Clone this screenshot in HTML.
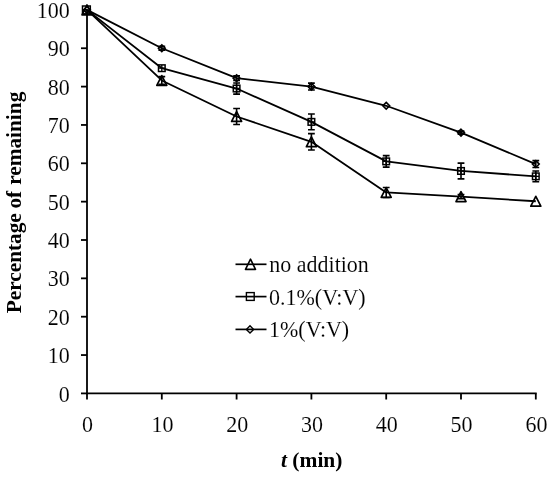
<!DOCTYPE html><html><head><meta charset="utf-8"><style>html,body{margin:0;padding:0;background:#fff;width:550px;height:477px;overflow:hidden}svg{display:block;filter:grayscale(1)}text{font-family:"Liberation Serif",serif;fill:#000}.thin text{stroke:#fff;stroke-width:0.1px}</style></head><body>
<svg width="550" height="477" viewBox="0 0 550 477">
<rect width="550" height="477" fill="#fff"/>
<g stroke="#000" stroke-width="1.8" fill="none">
<line x1="87.0" y1="9.899999999999977" x2="87.0" y2="394.29999999999995"/>
<line x1="86.1" y1="393.4" x2="536.6999999999999" y2="393.4"/>
<line x1="81" y1="393.40" x2="87.0" y2="393.40"/>
<line x1="81" y1="355.05" x2="87.0" y2="355.05"/>
<line x1="81" y1="316.70" x2="87.0" y2="316.70"/>
<line x1="81" y1="278.35" x2="87.0" y2="278.35"/>
<line x1="81" y1="240.00" x2="87.0" y2="240.00"/>
<line x1="81" y1="201.65" x2="87.0" y2="201.65"/>
<line x1="81" y1="163.30" x2="87.0" y2="163.30"/>
<line x1="81" y1="124.95" x2="87.0" y2="124.95"/>
<line x1="81" y1="86.60" x2="87.0" y2="86.60"/>
<line x1="81" y1="48.25" x2="87.0" y2="48.25"/>
<line x1="83" y1="9.90" x2="87.0" y2="9.90"/>
<line x1="87.00" y1="393.4" x2="87.00" y2="399.5"/>
<line x1="161.80" y1="393.4" x2="161.80" y2="399.5"/>
<line x1="236.60" y1="393.4" x2="236.60" y2="399.5"/>
<line x1="311.40" y1="393.4" x2="311.40" y2="399.5"/>
<line x1="386.20" y1="393.4" x2="386.20" y2="399.5"/>
<line x1="461.00" y1="393.4" x2="461.00" y2="399.5"/>
<line x1="535.80" y1="393.4" x2="535.80" y2="399.5"/>
</g>
<g class="thin" font-size="22" text-anchor="end">
<text transform="translate(69.8,401.50) scale(1,1.09)">0</text>
<text transform="translate(69.8,363.15) scale(1,1.09)">10</text>
<text transform="translate(69.8,324.80) scale(1,1.09)">20</text>
<text transform="translate(69.8,286.45) scale(1,1.09)">30</text>
<text transform="translate(69.8,248.10) scale(1,1.09)">40</text>
<text transform="translate(69.8,209.75) scale(1,1.09)">50</text>
<text transform="translate(69.8,171.40) scale(1,1.09)">60</text>
<text transform="translate(69.8,133.05) scale(1,1.09)">70</text>
<text transform="translate(69.8,94.70) scale(1,1.09)">80</text>
<text transform="translate(69.8,56.35) scale(1,1.09)">90</text>
<text transform="translate(69.8,18.00) scale(1,1.09)">100</text>
</g>
<g class="thin" font-size="22" text-anchor="middle">
<text transform="translate(87.60,431.8) scale(1,1.09)">0</text>
<text transform="translate(162.40,431.8) scale(1,1.09)">10</text>
<text transform="translate(237.20,431.8) scale(1,1.09)">20</text>
<text transform="translate(312.00,431.8) scale(1,1.09)">30</text>
<text transform="translate(386.80,431.8) scale(1,1.09)">40</text>
<text transform="translate(461.60,431.8) scale(1,1.09)">50</text>
<text transform="translate(536.40,431.8) scale(1,1.09)">60</text>
</g>
<text transform="translate(281,467) scale(1.075,1)" font-size="20" font-weight="bold"><tspan font-style="italic">t</tspan> (min)</text>
<g font-size="21.3" font-weight="bold">
<text transform="translate(21.3,313.3) rotate(-90)">Percentage</text>
<text transform="translate(21.3,208.6) rotate(-90)">of</text>
<text transform="translate(21.3,184.8) rotate(-90)">remaining</text>
</g>
<polyline points="87.00,9.90 161.80,80.46 236.60,116.51 311.40,141.82 386.20,192.45 461.00,196.66 535.80,201.27" fill="none" stroke="#000" stroke-width="1.8" stroke-linejoin="round"/>
<polyline points="87.00,9.90 161.80,68.19 236.60,88.52 311.40,121.88 386.20,161.38 461.00,170.97 535.80,176.34" fill="none" stroke="#000" stroke-width="1.8" stroke-linejoin="round"/>
<polyline points="87.00,9.90 161.80,48.25 236.60,78.16 311.40,86.60 386.20,105.77 461.00,132.62 535.80,164.07" fill="none" stroke="#000" stroke-width="1.8" stroke-linejoin="round"/>
<path d="M87.00,5.00 L92.00,14.80 L82.00,14.80 Z" fill="none" stroke="#000" stroke-width="1.7" stroke-linejoin="round"/>

<path d="M161.80,75.56 L166.80,85.36 L156.80,85.36 Z" fill="none" stroke="#000" stroke-width="1.7" stroke-linejoin="round"/>
<path d="M161.80,76.63 V84.30 M158.40,76.63 H165.20 M158.40,84.30 H165.20" stroke="#000" stroke-width="1.6" fill="none"/>
<path d="M236.60,111.61 L241.60,121.41 L231.60,121.41 Z" fill="none" stroke="#000" stroke-width="1.7" stroke-linejoin="round"/>
<path d="M236.60,108.46 V124.57 M233.20,108.46 H240.00 M233.20,124.57 H240.00" stroke="#000" stroke-width="1.6" fill="none"/>
<path d="M311.40,136.92 L316.40,146.72 L306.40,146.72 Z" fill="none" stroke="#000" stroke-width="1.7" stroke-linejoin="round"/>
<path d="M311.40,133.58 V150.07 M308.00,133.58 H314.80 M308.00,150.07 H314.80" stroke="#000" stroke-width="1.6" fill="none"/>
<path d="M386.20,187.55 L391.20,197.35 L381.20,197.35 Z" fill="none" stroke="#000" stroke-width="1.7" stroke-linejoin="round"/>
<path d="M386.20,187.46 V197.43 M382.80,187.46 H389.60 M382.80,197.43 H389.60" stroke="#000" stroke-width="1.6" fill="none"/>
<path d="M461.00,191.76 L466.00,201.56 L456.00,201.56 Z" fill="none" stroke="#000" stroke-width="1.7" stroke-linejoin="round"/>
<path d="M461.00,194.56 V198.77 M457.60,194.56 H464.40 M457.60,198.77 H464.40" stroke="#000" stroke-width="1.6" fill="none"/>
<path d="M535.80,196.37 L540.80,206.17 L530.80,206.17 Z" fill="none" stroke="#000" stroke-width="1.7" stroke-linejoin="round"/>

<rect x="82.50" y="6.00" width="7.8" height="7.8" fill="none" stroke="#000" stroke-width="1.5"/>
<rect x="158.50" y="64.89" width="6.6" height="6.6" fill="none" stroke="#000" stroke-width="1.5"/><path d="M161.80,64.89V71.49M158.50,68.19H165.10" stroke="#000" stroke-width="1.3"/>

<rect x="233.30" y="85.22" width="6.6" height="6.6" fill="none" stroke="#000" stroke-width="1.5"/><path d="M236.60,85.22V91.82M233.30,88.52H239.90" stroke="#000" stroke-width="1.3"/>
<path d="M236.60,82.96 V94.08 M233.20,82.96 H240.00 M233.20,94.08 H240.00" stroke="#000" stroke-width="1.6" fill="none"/>
<rect x="308.10" y="118.58" width="6.6" height="6.6" fill="none" stroke="#000" stroke-width="1.5"/><path d="M311.40,118.58V125.18M308.10,121.88H314.70" stroke="#000" stroke-width="1.3"/>
<path d="M311.40,114.02 V129.74 M308.00,114.02 H314.80 M308.00,129.74 H314.80" stroke="#000" stroke-width="1.6" fill="none"/>
<rect x="382.90" y="158.08" width="6.6" height="6.6" fill="none" stroke="#000" stroke-width="1.5"/><path d="M386.20,158.08V164.68M382.90,161.38H389.50" stroke="#000" stroke-width="1.3"/>
<path d="M386.20,155.63 V167.13 M382.80,155.63 H389.60 M382.80,167.13 H389.60" stroke="#000" stroke-width="1.6" fill="none"/>
<rect x="457.70" y="167.67" width="6.6" height="6.6" fill="none" stroke="#000" stroke-width="1.5"/><path d="M461.00,167.67V174.27M457.70,170.97H464.30" stroke="#000" stroke-width="1.3"/>
<path d="M461.00,163.11 V178.83 M457.60,163.11 H464.40 M457.60,178.83 H464.40" stroke="#000" stroke-width="1.6" fill="none"/>
<rect x="532.50" y="173.04" width="6.6" height="6.6" fill="none" stroke="#000" stroke-width="1.5"/><path d="M535.80,173.04V179.64M532.50,176.34H539.10" stroke="#000" stroke-width="1.3"/>
<path d="M535.80,170.97 V181.71 M532.40,170.97 H539.20 M532.40,181.71 H539.20" stroke="#000" stroke-width="1.6" fill="none"/>
<path d="M87.00,6.50 L90.40,9.90 L87.00,13.30 L83.60,9.90 Z" fill="none" stroke="#000" stroke-width="1.6"/>

<path d="M161.80,44.85 L165.20,48.25 L161.80,51.65 L158.40,48.25 Z" fill="none" stroke="#000" stroke-width="1.6"/>
<path d="M161.80,46.33 V50.17 M158.40,46.33 H165.20 M158.40,50.17 H165.20" stroke="#000" stroke-width="1.6" fill="none"/>
<path d="M236.60,74.76 L240.00,78.16 L236.60,81.56 L233.20,78.16 Z" fill="none" stroke="#000" stroke-width="1.6"/>
<path d="M236.60,75.86 V80.46 M233.20,75.86 H240.00 M233.20,80.46 H240.00" stroke="#000" stroke-width="1.6" fill="none"/>
<path d="M311.40,83.20 L314.80,86.60 L311.40,90.00 L308.00,86.60 Z" fill="none" stroke="#000" stroke-width="1.6"/>
<path d="M311.40,83.15 V90.05 M308.00,83.15 H314.80 M308.00,90.05 H314.80" stroke="#000" stroke-width="1.6" fill="none"/>
<path d="M386.20,102.37 L389.60,105.77 L386.20,109.17 L382.80,105.77 Z" fill="none" stroke="#000" stroke-width="1.6"/>

<path d="M461.00,129.22 L464.40,132.62 L461.00,136.02 L457.60,132.62 Z" fill="none" stroke="#000" stroke-width="1.6"/>
<path d="M461.00,131.09 V134.15 M457.60,131.09 H464.40 M457.60,134.15 H464.40" stroke="#000" stroke-width="1.6" fill="none"/>
<path d="M535.80,160.67 L539.20,164.07 L535.80,167.47 L532.40,164.07 Z" fill="none" stroke="#000" stroke-width="1.6"/>
<path d="M535.80,160.62 V167.52 M532.40,160.62 H539.20 M532.40,167.52 H539.20" stroke="#000" stroke-width="1.6" fill="none"/>
<g class="thin" font-size="22">
<line x1="235.5" y1="264.3" x2="266.5" y2="264.3" stroke="#000" stroke-width="1.7"/>
<path d="M250.50,259.20 L255.50,269.40 L245.50,269.40 Z" fill="none" stroke="#000" stroke-width="1.6" stroke-linejoin="round"/>
<text transform="translate(269.3,271.5) scale(1,1.09)">no addition</text>
<line x1="235.5" y1="296.6" x2="266.5" y2="296.6" stroke="#000" stroke-width="1.7"/>
<rect x="246.40" y="292.60" width="7.8" height="7.8" fill="none" stroke="#000" stroke-width="1.4"/>
<text transform="translate(269.0,305.0) scale(1,1.09)">0.1%(V:V)</text>
<line x1="235.5" y1="329.4" x2="266.5" y2="329.4" stroke="#000" stroke-width="1.7"/>
<path d="M250.00,325.80 L253.60,329.40 L250.00,333.00 L246.40,329.40 Z" fill="none" stroke="#000" stroke-width="1.4"/>
<text transform="translate(269.0,337.0) scale(1,1.09)">1%(V:V)</text>
</g>
</svg></body></html>
